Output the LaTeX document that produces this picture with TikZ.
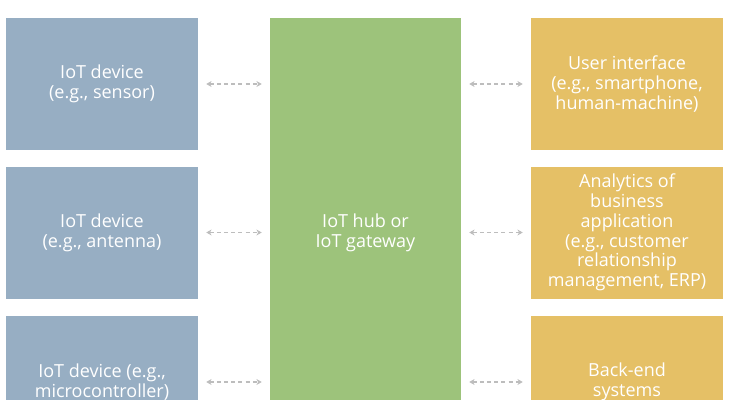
\documentclass[tikz,border=0pt]{standalone}
\usepackage{fontspec}
\setmainfont{Open Sans}
\usetikzlibrary{arrows.meta}

\definecolor{devblue}{HTML}{97AEC3}
\definecolor{hubgreen}{HTML}{9DC37B}
\definecolor{appyellow}{HTML}{E5C066}
\definecolor{linkgray}{HTML}{BDBDBD}

\def\u{0.75pt} % one pixel of the reference

\tikzset{
  box/.style={inner sep=0pt, text=white, align=center, font=\fontsize{13.5}{14.8}\selectfont},
  devbox/.style={box, fill=devblue, minimum width=192*\u, minimum height=132*\u},
  appbox/.style={box, fill=appyellow, minimum width=192*\u, minimum height=132*\u},
  hubbox/.style={box, fill=hubgreen, minimum width=191*\u, minimum height=430*\u},
  link/.style={linkgray, dash pattern=on 3pt off 2.4pt, line width=0.8pt,
    {Stealth[length=4pt,width=4.5pt]}-{Stealth[length=4pt,width=4.5pt]},
    shorten <=6pt, shorten >=6pt}
}

\begin{document}
\begin{tikzpicture}[x=\u, y=-\u]

    \useasboundingbox (0,0) rectangle (729,400);
    \clip (0,0) rectangle (729,400);

    % left column
    \node[devbox] (dev1) at (102,84)  {IoT device\\(e.g., sensor)};
    \node[devbox] (dev2) at (102,232.5) {IoT device\\(e.g., antenna)};
    \node[devbox] (dev3) at (102,382) {IoT device (e.g.,\\microcontroller)};

    % middle
    \node[hubbox] (hub) at (365.5,233) {IoT hub or\\IoT gateway};

    % right column
    \node[appbox] (app1) at (627,84)  {User interface\\(e.g., smartphone,\\human-machine)};
    \node[appbox] (app2) at (627,232.5) {Analytics of\\business\\application\\(e.g., customer\\relationship\\management, ERP)};
    \node[appbox] (app3) at (627,382) {Back-end\\systems};

    \foreach \i in {1,2,3} {
      \draw[link] (dev\i.east) -- (dev\i.east -| hub.west);
      \draw[link] (hub.east |- app\i.west) -- (app\i.west);
    }

  \end{tikzpicture}
\end{document}
